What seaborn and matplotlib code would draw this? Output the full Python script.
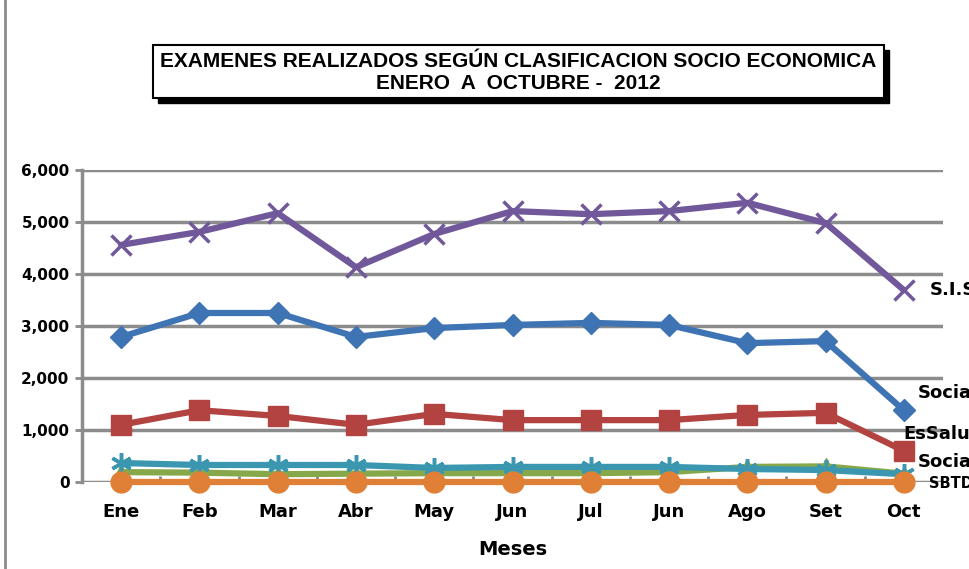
import matplotlib
matplotlib.use("Agg")
import matplotlib.pyplot as plt
import seaborn as sns
import pandas as pd
from matplotlib.patches import Rectangle

months = ["Ene", "Feb", "Mar", "Abr", "May", "Jun", "Jul", "Jun", "Ago", "Set", "Oct"]
social_a = [2790, 3250, 3250, 2790, 2960, 3020, 3060, 3020, 2670, 2710, 1380]
essalud = [1100, 1380, 1270, 1100, 1310, 1190, 1190, 1190, 1290, 1330, 600]
otros = [190, 180, 150, 160, 170, 170, 170, 190, 290, 300, 160]
sis = [4560, 4810, 5170, 4130, 4770, 5210, 5150, 5210, 5370, 4980, 3690]
social_b = [365, 327, 327, 327, 270, 290, 290, 290, 250, 230, 150]
sbtd = [5, 5, 5, 5, 5, 5, 5, 5, 5, 5, 5]

series_names = ["Social", "EsSalud", "Otros", "S.I.S", "Social B", "SBTD"]
series_vals = [social_a, essalud, otros, sis, social_b, sbtd]
colors = ["#3E74B3", "#B24340", "#86A84A", "#71589A", "#3B97B0", "#E08036"]
markers = ["D", "s", "^", "x", (6, 2, 0), "o"]
msizes = [11, 14, 11, 14, 15, 15]

sns.set_theme(style="white")
plt.rcParams['font.family'] = ['DejaVu Sans']
plt.rcParams['text.color'] = 'black'
plt.rcParams['xtick.color'] = 'black'
plt.rcParams['ytick.color'] = 'black'
plt.rcParams['axes.labelcolor'] = 'black'

fig = plt.figure(figsize=(9.70, 5.69), dpi=100)
ax = fig.add_axes([82/970, 1-482/569, (943-82)/970, (482-170)/569])

x = list(range(len(months)))
for name, vals, c, m, ms in zip(series_names, series_vals, colors, markers, msizes):
    df = pd.DataFrame({"x": x, "y": vals})
    sns.lineplot(data=df, x="x", y="y", ax=ax, color=c, linewidth=4.5,
                 marker=m, markersize=ms, markeredgecolor=c,
                 markeredgewidth=2.5 if m in ("x", (6, 2, 0)) else 1, clip_on=False)

ax.set_xlim(-0.5, len(months) - 0.5)
ax.set_ylim(0, 6000)
ax.set_yticks(range(0, 6001, 1000))
ax.set_yticklabels([f"{v:,}" for v in range(0, 6001, 1000)], fontsize=11, fontweight="bold")
ax.set_xticks(x)
ax.set_xticklabels(months, fontsize=13, fontweight="bold")
ax.tick_params(axis="x", length=0, pad=15, colors="black")
ax.tick_params(axis="y", length=5, width=2, color="#888888", labelcolor="black", pad=4, left=True)
ax.set_xticks([i + 0.5 for i in x[:-1]], minor=True)
ax.tick_params(axis="x", which="minor", length=4, width=2, color="#888888", bottom=True, direction="in")
ax.grid(axis="y", color="#8C8C8C", linewidth=2.5)
ax.set_axisbelow(True)
for s in ["top", "right"]:
    ax.spines[s].set_visible(False)
ax.spines["left"].set_color("#8C8C8C")
ax.spines["left"].set_linewidth(2.5)
ax.spines["bottom"].set_visible(False)
ax.set_xlabel("Meses", fontsize=14, fontweight="bold", labelpad=14, color="black")
ax.set_ylabel("")

# end-of-line labels (clipped by the figure edge, as in the reference)
ax.text(10.33, 3700, "S.I.S", fontsize=13, fontweight="bold", va="center", ha="left", clip_on=False)
ax.text(10.18, 1720, "Social", fontsize=13, fontweight="bold", va="center", ha="left", clip_on=False)
ax.text(10.0, 920, "EsSalud", fontsize=13, fontweight="bold", va="center", ha="left", clip_on=False)
ax.text(10.18, 390, "Social", fontsize=13, fontweight="bold", va="center", ha="left", clip_on=False)
ax.text(10.32, -20, "SBTD", fontsize=10.5, fontweight="bold", va="center", ha="left", clip_on=False)

# title box with shadow
bx0, by0, bw, bh = 153/970, 1-98/569, (884-153)/970, (98-45)/569
fig.patches.append(Rectangle((bx0 + 5/970, by0 - 5/569), bw, bh, transform=fig.transFigure,
                             facecolor="black", edgecolor="black", zorder=1))
fig.patches.append(Rectangle((bx0, by0), bw, bh, transform=fig.transFigure,
                             facecolor="white", edgecolor="black", linewidth=1.5, zorder=2))
fig.text(bx0 + bw/2, by0 + bh/2 - 1/569, "EXAMENES REALIZADOS SEGÚN CLASIFICACION SOCIO ECONOMICA\nENERO  A  OCTUBRE -  2012",
         ha="center", va="center", fontsize=15, fontweight="bold", color="black",
         family=["Liberation Sans", "DejaVu Sans"], linespacing=1.15, zorder=3)

# chart left border
fig.add_artist(plt.Line2D([5/970, 5/970], [0, 1], transform=fig.transFigure, color="#8C8C8C", linewidth=2))

fig.savefig("out.png", dpi=100)
